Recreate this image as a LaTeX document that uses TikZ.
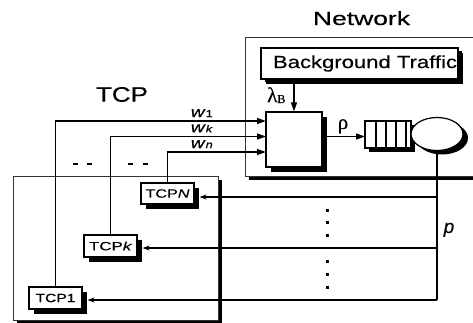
\documentclass[tikz,border=0pt]{standalone}
\usepackage{fontspec}
\setmainfont{Liberation Sans}[FakeBold=0.3]
\newfontfamily\serifgr{Liberation Serif}[FakeBold=0.3]
\usetikzlibrary{arrows.meta,shadows,shapes.geometric}
\newcommand{\fitw}[2]{\resizebox{#1pt}{\height}{#2}}
\newcommand{\fsz}[1]{\fontsize{#1}{#1}\selectfont}
\begin{document}
\begin{tikzpicture}[x=1pt,y=-1pt,
  conn/.style={line width=1.3pt},
  inarrow/.style={conn,-{Triangle[length=9pt,width=6pt]}},
  retarrow/.style={conn,-{Stealth[length=7pt,width=5pt]}},
  outerbox/.style={draw=black!80,line width=0.8pt,fill=white,inner sep=0pt,
    drop shadow={shadow xshift=4pt,shadow yshift=-4pt,fill=black,opacity=1}},
  blockbox/.style={draw,line width=1.2pt,fill=white,inner sep=0pt,
    drop shadow={shadow xshift=5pt,shadow yshift=-5pt,fill=black,opacity=1}},
  tcpnode/.style={blockbox,minimum width=53pt,minimum height=21pt,font=\fsz{12}},
  dotmark/.style={fill=black,inner sep=0pt,minimum width=3pt,minimum height=3pt},
  dashmark/.style={fill=black,inner sep=0pt,minimum width=4.5pt,minimum height=2pt},
  lbl/.style={inner sep=0pt}
]
\useasboundingbox (0,0) rectangle (473,322);
% outer boxes
\node[outerbox,minimum width=235pt,minimum height=139pt] (net) at (362.5,106.5) {};
\node[outerbox,minimum width=205pt,minimum height=144pt] (tcpbox) at (115.5,248) {};
% titles
\node[lbl,anchor=base,font=\fsz{19}] (nettitle) at (361.5,25) {\fitw{97}{Network}};
\node[lbl,anchor=base,font=\fsz{21}] (tcptitle) at (122,101.7) {\fitw{52}{TCP}};
% background traffic
\node[blockbox,line width=1.5pt,minimum width=197pt,minimum height=31pt,
  drop shadow={shadow xshift=4pt,shadow yshift=-3pt,fill=black,opacity=1},
  font=\fsz{17.5}] (bt) at (359.5,63.5) {\hspace*{11pt}\fitw{184}{Background Traffic}};
% mixer
\node[blockbox,minimum width=56pt,minimum height=55pt] (mix) at (294,139.5) {};
% queue
\node[draw,line width=1.2pt,fill=white,inner sep=0pt,minimum width=46pt,minimum height=27pt,
  drop shadow={shadow xshift=4pt,shadow yshift=-4pt,fill=black,opacity=1}] (queue) at (388,134.5) {};
\foreach \xx in {376,386,396,406}{\draw[line width=1.2pt] (\xx,121) -- (\xx,148);}
\node[draw,ellipse,line width=1.2pt,fill=white,inner sep=0pt,minimum width=52pt,minimum height=33pt,
  drop shadow={shadow xshift=5pt,shadow yshift=-4pt,fill=black,opacity=1}] (server) at (437,134) {};
% TCP boxes
\node[tcpnode] (tcpN) at (167.5,193.5) {\fitw{44}{TCP\textit{N}}};
\node[tcpnode,minimum height=22pt] (tcpK) at (110.5,246) {\fitw{43}{TCP\textit{k}}};
\node[tcpnode,minimum height=22pt] (tcp1) at (55.5,298) {\fitw{40}{TCP1}};
% input coordinates
\coordinate (in1) at (266,121);
\coordinate (ink) at (266,136.5);
\coordinate (inn) at (266,152);
\draw[inarrow] (tcp1.north) |- (in1);
\draw[inarrow] (tcpK.north) |- (ink);
\draw[inarrow] (tcpN.north) |- (inn);
\draw[inarrow] (bt.south -| mix.north) -- (mix.north);
\coordinate (mixout) at (322,136.5);
\coordinate (qin) at (365,136.5);
\draw[inarrow] (mixout) -- (qin);
% return path
\coordinate (r1) at (437,197);
\coordinate (r2) at (437,248);
\coordinate (r3) at (437,300);
\draw[conn] (server.south) -- (r3);
\draw[retarrow] (r1) -- ([xshift=5pt]tcpN.east |- r1);
\draw[retarrow] (r2) -- ([xshift=5pt]tcpK.east |- r2);
\draw[retarrow] (r3) -- ([xshift=5pt]tcp1.east |- r3);
% labels
\node[lbl,anchor=base east,font=\fsz{15}] (w1) at (213,117) {\fitw{22}{\textit{w}{\fsz{10}1}}};
\node[lbl,anchor=base east,font=\fsz{15}] (wk) at (213,132.3) {\fitw{22}{\textit{w}{\fsz{10}\textit{k}}}};
\node[lbl,anchor=base east,font=\fsz{15}] (wn) at (213,148) {\fitw{22}{\textit{w}{\fsz{10}\textit{n}}}};
\node[lbl,anchor=base west,font=\fsz{21}] (lam) at (267,102) {{\serifgr λ}\raisebox{-1pt}{\serifgr\fsz{12}B}};
\node[lbl,anchor=base,font=\fsz{21}] (rho) at (343,129) {\serifgr ρ};
\node[lbl,anchor=base,font=\fsz{19}] (plab) at (449,233) {\textit{p}};
% ellipsis marks
\foreach \yy [count=\i] in {210,222.7,235.7,261,274,287.3}{\node[dotmark] (vd\i) at (327,\yy) {};}
\foreach \xx [count=\i] in {75.5,89.5,130.5,145.5}{\node[dashmark] (hd\i) at (\xx,163.5) {};}
\end{tikzpicture}
\end{document}
